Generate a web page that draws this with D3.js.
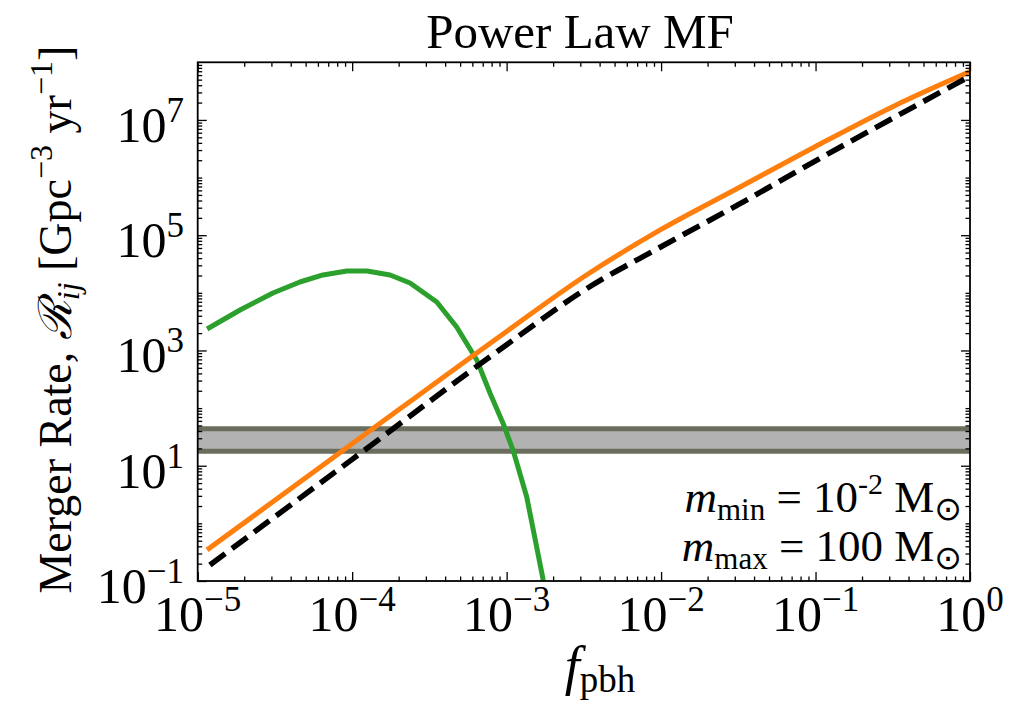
<!DOCTYPE html>
<html>
<head>
<meta charset="utf-8">
<script src="https://cdn.jsdelivr.net/npm/d3@7"></script>
<style>
  body { margin: 0; background: #fff; }
  svg { display: block; }
  text { font-family: "Liberation Serif", "DejaVu Serif", serif; fill: #000; }
</style>
</head>
<body>
<svg id="chart" width="1012" height="706"></svg>
<script>
// ---------------- data ----------------
const titleText = "Power Law MF";

// orange solid curve
const fOrange    = [1.15e-5, 1e-4, 1e-3, 3.16e-3, 1e-2, 3.16e-2, 1e-1, 3.16e-1, 1];
const rateOrange = [0.347, 24.0, 2140, 19000, 126000, 660000, 3.47e6, 1.70e7, 6.9e7];

// black dashed curve
const fBlack    = [1.2e-5, 1e-4, 1e-3, 3.16e-3, 1e-2, 3.16e-2, 1e-1, 3.16e-1, 1];
const rateBlack = [0.19, 12.9, 1259, 11000, 63100, 339000, 1.95e6, 1.07e7, 5.75e7];

// green curve
const fGreen    = [1.15e-5, 1.88e-5, 3.07e-5, 4.59e-5, 6.47e-5, 9.25e-5, 1.25e-4, 1.76e-4,
                   2.37e-4, 3.53e-4, 4.75e-4, 6.41e-4, 7.80e-4, 9.46e-4, 1.10e-3, 1.35e-3,
                   1.71e-3, 2.0e-3];
const rateGreen = [2360, 5035, 9930, 15420, 20420, 23930, 23930, 20420,
                   14830, 6930, 2550, 684, 183, 55.2, 18.7, 2.87,
                   0.117, 0.01];

// observed band
const bandLow = 17.9;
const bandHigh = 44;

// axis ticks
const xTickExponents = [-5, -4, -3, -2, -1, 0];
const yTickExponents = [-1, 1, 3, 5, 7];

// legend text lines
const legendMin = { sub: "min", value: "10", sup: "-2" };
const legendMax = { sub: "max", value: "100" };

// ---------------- layout ----------------
const svg = d3.select("#chart");
const L = 197.7, R = 970, T = 62.3, B = 581;

const x = d3.scaleLog().domain([1e-5, 1]).range([L, R]);
const y = d3.scaleLog().domain([0.1, 1e8]).range([B, T]);

svg.append("defs").append("clipPath").attr("id", "clip")
  .append("rect").attr("x", L).attr("y", T).attr("width", R - L).attr("height", B - T);

const plot = svg.append("g").attr("clip-path", "url(#clip)");

// band
plot.append("rect")
  .attr("x", L).attr("width", R - L)
  .attr("y", y(bandHigh)).attr("height", y(bandLow) - y(bandHigh))
  .attr("fill", "#b2b2b2");
[bandLow, bandHigh].forEach(v => {
  plot.append("line")
    .attr("x1", L).attr("x2", R).attr("y1", y(v)).attr("y2", y(v))
    .attr("stroke", "#6b6e5e").attr("stroke-width", 5);
});

const line = d3.line().x(d => x(d[0])).y(d => y(d[1]));

plot.append("path")
  .datum(d3.zip(fGreen, rateGreen))
  .attr("d", line)
  .attr("fill", "none").attr("stroke", "#2ca02c").attr("stroke-width", 5)
  .attr("stroke-linejoin", "round");

const smooth = d3.line().x(d => x(d[0])).y(d => y(d[1])).curve(d3.curveMonotoneX);

plot.append("path")
  .datum(d3.zip(fOrange, rateOrange))
  .attr("d", smooth)
  .attr("fill", "none").attr("stroke", "#ff7f0e").attr("stroke-width", 5);

plot.append("path")
  .datum(d3.zip(fBlack, rateBlack))
  .attr("d", smooth)
  .attr("fill", "none").attr("stroke", "#000").attr("stroke-width", 5.5)
  .attr("stroke-dasharray", "19,8.5");

// ---------------- ticks ----------------
const xMajor = xTickExponents.map(e => Math.pow(10, e));
const xMinor = [];
for (let n = -5; n < 0; n++) for (let k = 2; k <= 9; k++) xMinor.push(k * Math.pow(10, n));
const yMajor = yTickExponents.map(e => Math.pow(10, e));
const yMinor = [];
for (let n = -1; n < 8; n++) for (let k = 1; k <= 9; k++) {
  if (k === 1 && yTickExponents.includes(n)) continue;
  yMinor.push(k * Math.pow(10, n));
}

function tickAxis(axisFn, scale, vals, size, transform) {
  svg.append("g").attr("transform", transform)
    .call(axisFn(scale).tickValues(vals).tickSize(-size).tickFormat(""))
    .call(g => g.select(".domain").remove())
    .call(g => g.selectAll("line").attr("stroke", "#000").attr("stroke-width", 1.3));
}
tickAxis(d3.axisBottom, x, xMajor, 9, `translate(0,${B})`);
tickAxis(d3.axisBottom, x, xMinor, 4.5, `translate(0,${B})`);
tickAxis(d3.axisTop, x, xMajor, 9, `translate(0,${T})`);
tickAxis(d3.axisTop, x, xMinor, 4.5, `translate(0,${T})`);
tickAxis(d3.axisLeft, y, yMajor, 9, `translate(${L},0)`);
tickAxis(d3.axisLeft, y, yMinor, 4.5, `translate(${L},0)`);
tickAxis(d3.axisRight, y, yMajor, 9, `translate(${R},0)`);
tickAxis(d3.axisRight, y, yMinor, 4.5, `translate(${R},0)`);

// frame
svg.append("rect").attr("x", L).attr("y", T).attr("width", R - L).attr("height", B - T)
  .attr("fill", "none").attr("stroke", "#000").attr("stroke-width", 1.8);

// ---------------- tick labels ----------------
const fmtExp = e => (e < 0 ? "\u2212" + (-e) : String(e));

xTickExponents.forEach(e => {
  const t = svg.append("text")
    .attr("x", x(Math.pow(10, e))).attr("y", 631)
    .attr("text-anchor", "middle").attr("font-size", 50);
  t.append("tspan").text("10");
  t.append("tspan").attr("dy", -20).attr("font-size", 35).text(fmtExp(e));
});

yTickExponents.forEach(e => {
  const t = svg.append("text")
    .attr("x", 184).attr("y", y(Math.pow(10, e)) + 22)
    .attr("text-anchor", "end").attr("font-size", 50);
  t.append("tspan").text("10");
  t.append("tspan").attr("dy", -20).attr("font-size", 35).text(fmtExp(e));
});

// ---------------- titles ----------------
svg.append("text").attr("x", 580).attr("y", 48)
  .attr("text-anchor", "middle").attr("font-size", 49).text(titleText);

// x label
const xl = svg.append("text").attr("x", 600).attr("y", 684)
  .attr("text-anchor", "middle").attr("font-size", 54);
xl.append("tspan").attr("font-style", "italic").text("f");
xl.append("tspan").attr("dy", 8).attr("font-size", 37).text("pbh");

// y label
const yl = svg.append("text")
  .attr("transform", `translate(71,${(T + B) / 2 - 2}) rotate(-90)`)
  .attr("text-anchor", "middle").attr("font-size", 46);
yl.append("tspan").text("Merger Rate, ");
yl.append("tspan").attr("font-family", "DejaVu Serif, serif").attr("font-style", "italic").text("\u211B");
yl.append("tspan").attr("dy", 8).attr("font-size", 32).attr("font-style", "italic").text("ij");
yl.append("tspan").attr("dy", -8).text(" [Gpc");
yl.append("tspan").attr("dy", -19).attr("font-size", 32).text("\u22123");
yl.append("tspan").attr("dy", 19).text(" yr");
yl.append("tspan").attr("dy", -19).attr("font-size", 32).text("\u22121");
yl.append("tspan").attr("dy", 19).text("]");

// ---------------- legend annotation ----------------
function legendLine(yb, d) {
  const t = svg.append("text").attr("x", 962).attr("y", yb)
    .attr("text-anchor", "end").attr("font-size", 45);
  t.append("tspan").attr("font-style", "italic").text("m");
  t.append("tspan").attr("dy", 8).attr("font-size", 31).text(d.sub);
  t.append("tspan").attr("dy", -8).text(" = " + d.value);
  if (d.sup) {
    t.append("tspan").attr("dy", -18).attr("font-size", 30).text(d.sup);
    t.append("tspan").attr("dy", 18).text(" M");
  } else {
    t.append("tspan").text(" M");
  }
  t.append("tspan").attr("dy", 8).attr("font-size", 33)
    .attr("font-family", "DejaVu Sans, sans-serif").text("\u2299");
}
legendLine(512, legendMin);
legendLine(561, legendMax);
</script>
</body>
</html>
